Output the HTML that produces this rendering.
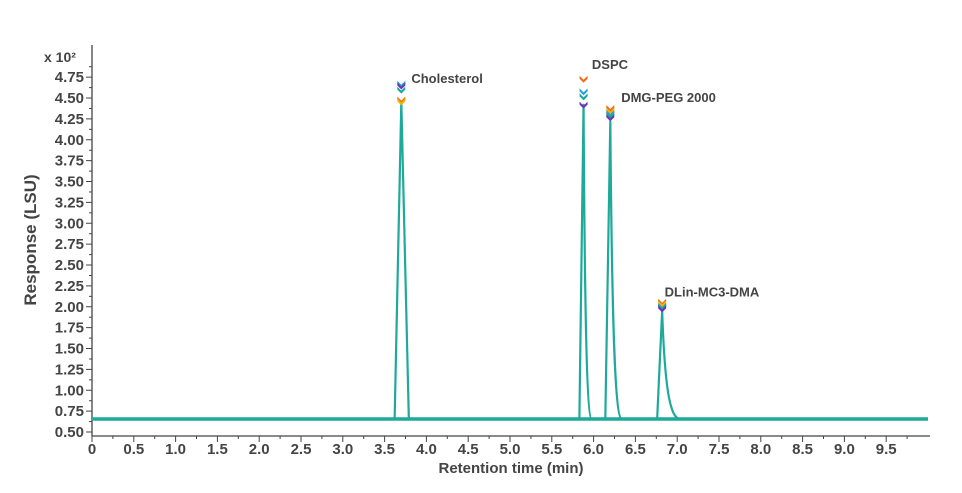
<!DOCTYPE html>
<html><head><meta charset="utf-8">
<style>
body{margin:0;background:#fff;}
svg text{font-family:"Liberation Sans",sans-serif;fill:#444;font-weight:bold;}
</style></head>
<body>
<svg id="chart" width="962" height="488" xmlns="http://www.w3.org/2000/svg">
<g id="axes"></g>
<g id="series"></g>
<g id="marks"></g>
<text x="44" y="62" font-size="14">x 10²</text>
<text transform="translate(36,240) rotate(-90)" text-anchor="middle" font-size="17">Response (LSU)</text>
<text x="511" y="473" text-anchor="middle" font-size="15">Retention time (min)</text>
</svg>
<script>
const yTicks=[0.50,0.75,1.00,1.25,1.50,1.75,2.00,2.25,2.50,2.75,3.00,3.25,3.50,3.75,4.00,4.25,4.50,4.75];
const xTicks=[0,0.5,1.0,1.5,2.0,2.5,3.0,3.5,4.0,4.5,5.0,5.5,6.0,6.5,7.0,7.5,8.0,8.5,9.0,9.5];
const baseline=0.655;
const peakNames=["Cholesterol","DSPC","DMG-PEG 2000","DLin-MC3-DMA"];
const peakStart=[3.62,5.83,6.14,6.76];
const peakApex=[3.70,5.88,6.20,6.82];
const peakEnd=[3.79,5.98,6.34,7.04];
const peakHeight=[4.45,4.42,4.22,1.95];
const markerColors=["#f26b1d","#f5b400","#2a9fe0","#1aaa9a","#6a35b8"];
const markerVals=[[4.48,4.46,4.67,4.60,4.65],[4.73,null,4.58,4.52,4.42],[4.38,4.35,4.32,4.30,4.27],[2.06,2.04,2.01,2.00,1.98]];
const labelPos=[[3.82,4.68],[5.98,4.85],[6.33,4.45],[6.85,2.12]];

const X=t=>92+t*83.6, Y=v=>432-(v-0.5)*83.5;
const ns="http://www.w3.org/2000/svg";
function mk(tag,attrs,parent){const e=document.createElementNS(ns,tag);for(const k in attrs)e.setAttribute(k,attrs[k]);parent.appendChild(e);return e;}
const ax=document.getElementById('axes'),se=document.getElementById('series'),mg=document.getElementById('marks');
let a=mk('line',{x1:92,y1:45,x2:92,y2:436,stroke:'#444','stroke-width':1.3},ax);

a=mk('line',{x1:92,y1:436,x2:930,y2:436,stroke:'#444','stroke-width':1.3},ax);

yTicks.forEach(v=>{const y=Y(v);
 mk('line',{x1:86,y1:y,x2:92,y2:y,stroke:'#444','stroke-width':1},ax);
 mk('line',{x1:89,y1:y-10.4,x2:92,y2:y-10.4,stroke:'#444','stroke-width':1},ax);
 const t=mk('text',{x:84,y:y+5,'text-anchor':'end','font-size':15},ax);t.textContent=v.toFixed(2);
 });
xTicks.forEach(v=>{const x=X(v);
 mk('line',{x1:x,y1:436,x2:x,y2:442,stroke:'#444','stroke-width':1},ax);
 mk('line',{x1:x+20.9,y1:436,x2:x+20.9,y2:439,stroke:'#444','stroke-width':1},ax);
 const t=mk('text',{x:x,y:454,'text-anchor':'middle','font-size':15},ax);t.textContent=v===0?'0':v.toFixed(1);
 });
// trace
let d=`M${X(0)},${Y(baseline)}`;
peakStart.forEach((s,i)=>{const b=Y(baseline),ap=X(peakApex[i]),top=Y(peakHeight[i]),e=X(peakEnd[i]);
 d+=` L${X(s)},${b} L${ap},${top}`;
 if(i===0) d+=` L${e},${b}`;
 else d+=` C${ap+(e-ap)*0.15},${top+(b-top)*0.75} ${ap+(e-ap)*0.45},${b} ${e},${b}`;});
d+=` L${X(10)},${Y(baseline)}`;
let p=mk('path',{d:d,fill:'none',stroke:'#1fa99a','stroke-width':2.2,'stroke-linejoin':'round'},se);

p=mk('line',{x1:X(0),y1:Y(baseline),x2:X(10),y2:Y(baseline),stroke:'#1fa99a','stroke-width':3.5},se);

// markers
markerVals.forEach((arr,i)=>{arr.forEach((v,j)=>{if(v===null)return;const x=X(peakApex[i]),y=Y(v);
 const m=mk('path',{d:`M${x-4},${y-3} L${x},${y+1} L${x+4},${y-3} L${x+4},${y} L${x},${y+4} L${x-4},${y} Z`,fill:markerColors[j]},mg);
 });
 const t=mk('text',{x:X(labelPos[i][0]),y:Y(labelPos[i][1]),'font-size':13,fill:'#111'},mg);t.textContent=peakNames[i];
 });
</script>
</body></html>
